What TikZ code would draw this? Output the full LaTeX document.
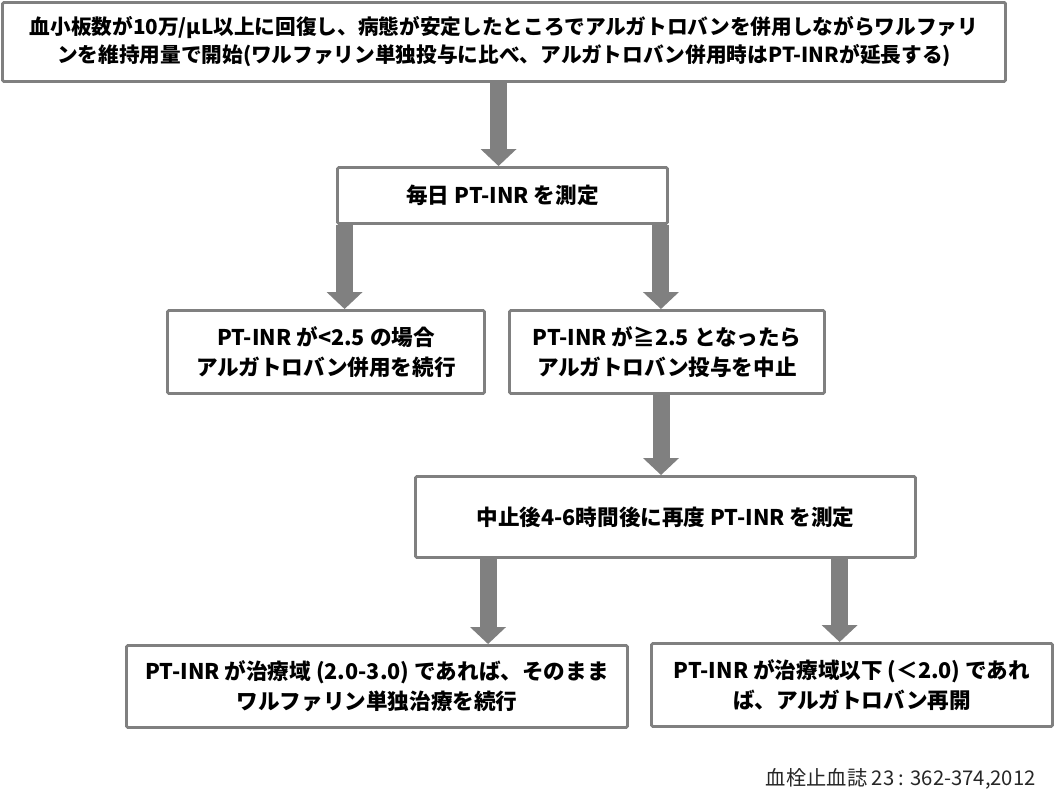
\documentclass[tikz,border=0pt]{standalone}
\usepackage{fontspec}
\setmainfont{Noto Sans CJK JP}
\usetikzlibrary{arrows.meta}
\definecolor{boxgray}{RGB}{128,128,128}
\definecolor{arrowgray}{RGB}{128,128,128}

\begin{document}
\begin{tikzpicture}[x=0.75pt,y=-0.75pt,box node/.style={draw=boxgray,line width=2.2pt,rounded corners=1pt,fill=white,align=center,inner sep=0pt,font=\bfseries\fontsize{16.2}{22.5}\selectfont},flow arrow/.style={draw,color=arrowgray,line width=12.75pt,-{Triangle[width=26.25pt,length=12.75pt]}}]
      \useasboundingbox (0,0) rectangle (1058,805);

      \node[box node,minimum width=752.25pt,minimum height=59.25pt,font=\bfseries\fontsize{15.5}{21}\selectfont] (1) at (504,42) {血小板数が10万/μL以上に回復し、病態が安定したところでアルガトロバンを併用しながらワルファリ\\ンを維持用量で開始(ワルファリン単独投与に比べ、アルガトロバン併用時はPT-INRが延長する)};
      \node[box node,minimum width=247.5pt,minimum height=42pt] (2) at (502.5,195.5) {毎日 PT-INR を測定};
      \node[box node,minimum width=237.75pt,minimum height=62.25pt] (3) at (326,352) {PT-INR が<2.5 の場合\\アルガトロバン併用を続行};
      \node[box node,minimum width=236.25pt,minimum height=62.25pt] (4) at (667,352) {PT-INR が≧2.5 となったら\\アルガトロバン投与を中止};
      \node[box node,minimum width=375pt,minimum height=60.75pt] (5) at (665.5,517) {中止後4-6時間後に再度 PT-INR を測定};
      \node[box node,minimum width=375.75pt,minimum height=61.5pt] (6) at (377,686.5) {PT-INR が治療域 (2.0-3.0) であれば、そのまま\\ワルファリン単独治療を続行};
      \node[box node,minimum width=300.75pt,minimum height=62.25pt] (7) at (852,685) {PT-INR が治療域以下 (＜2.0) であれ\\ば、アルガトロバン再開};
      \node[anchor=east,inner sep=0pt,text=black!85,font=\fontsize{15.2}{17}\selectfont] (8) at (1036,779) {血栓止血誌 23 : 362-374,2012};

      \path[every edge/.style={flow arrow}]
        ([xshift=-4.1pt]1.south) edge ([xshift=-4.1pt]1.south |- 2.north)
        ([xshift=6.4pt]2.south west) edge ([xshift=6.4pt]2.south west |- 3.north)
        ([xshift=-6pt]2.south east) edge ([xshift=-6pt]2.south east |- 4.north)
        ([xshift=-4.5pt]4.south) edge ([xshift=-4.5pt]4.south |- 5.north)
        ([xshift=55.5pt]5.south west) edge ([xshift=55.5pt]5.south west |- 6.north)
        ([xshift=-58pt]5.south east) edge ([xshift=-58pt]5.south east |- 7.north);

    \end{tikzpicture}
\end{document}
